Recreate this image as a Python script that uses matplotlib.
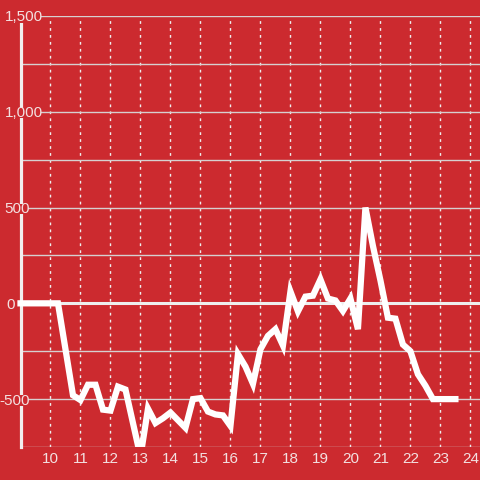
import matplotlib
matplotlib.use("Agg")
import matplotlib.pyplot as plt
from matplotlib.patches import Rectangle
import numpy as np

# data: one point every quarter, from 9 to 23.5
x = np.arange(9, 23.51, 0.25)
y = [0, 0, 0, 0, 0, 0,
     -240, -480, -505, -425, -425, -555, -560, -435, -450, -625,
     -800, -550, -625, -600, -570, -610, -650, -500, -495, -565,
     -580, -585, -640, -265, -330, -420, -240, -170, -135, -220,
     62, -42, 35, 40, 125, 25, 15, -40, 25, -135,
     500, 300, 120, -75, -80, -215, -250, -370, -430, -500,
     -500, -500, -500]

yticks = [-500, 0, 500, 1000, 1500]
ytick_labels = ["-500", "0", "500", "1,000", "1,500"]
xticks = list(range(10, 25))

red = "#cc2a2f"
txt = "#f3e0e0"

plt.rcParams["font.family"] = ["Liberation Sans", "DejaVu Sans"]

fig = plt.figure(figsize=(4.8, 4.8), dpi=100, facecolor=red)
ax = fig.add_axes([20.5/480, 33/480, 1 - 20.5/480, (447-16)/480])
ax.set_facecolor(red)

ax.set_xlim(9, 24.32)
ax.set_ylim(-750, 1500)

# grid
ax.set_yticks(np.arange(-750, 1501, 250))
ax.set_xticks(xticks)
ax.grid(axis="y", color="#d6d0d0", lw=1, ls="-", zorder=1)
ax.grid(axis="x", color="#eeeeee", lw=1, ls=(0, (2, 3)), zorder=1)
ax.tick_params(axis="y", length=0, labelleft=False)
ax.tick_params(axis="x", length=0, pad=3.8, labelsize=11, labelcolor=txt)

for s in ["top", "right", "bottom"]:
    ax.spines[s].set_visible(False)
ax.spines["left"].set_color("#f2eeee")
ax.spines["left"].set_linewidth(2.3)

ax.axhline(0, color="#eeeeee", lw=2.2, zorder=2)

line, = ax.plot(x, y, color="white", lw=4.5, zorder=3,
                solid_capstyle="projecting", solid_joinstyle="miter")
clip = Rectangle((-0.03, 0), 1.03, 1, transform=ax.transAxes)
line.set_clip_path(clip)

# y labels sit on top of the spine
label_x = {-500: 30, 0: 15, 500: 30, 1000: 43, 1500: 43}
trans = matplotlib.transforms.blended_transform_factory(ax.transAxes, ax.transData)
for v, lab in zip(yticks, ytick_labels):
    ax.text((label_x[v] - 20.5) / 459.5, v, lab, transform=trans,
            ha="right", va="center_baseline", fontsize=11, color=txt, zorder=5,
            clip_on=False,
            bbox=dict(boxstyle="square,pad=-0.12", fc=red, ec="none"))

fig.savefig("out.png", dpi=100, facecolor=red)
